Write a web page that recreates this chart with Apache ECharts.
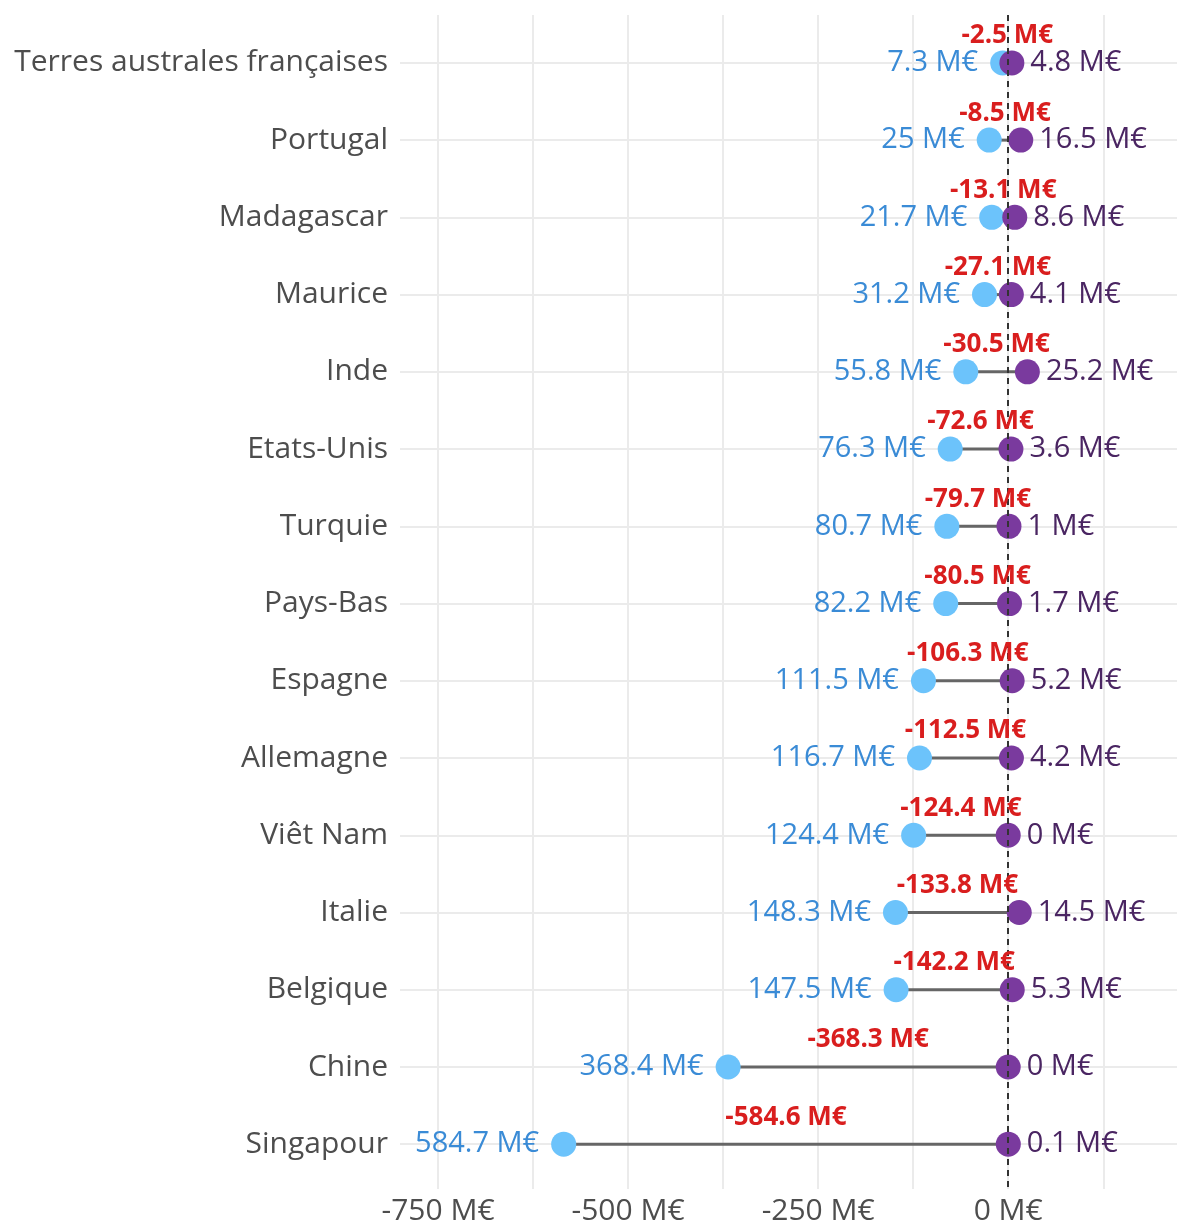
<!DOCTYPE html>
<html>
<head>
<meta charset="utf-8">
<script src="https://cdn.jsdelivr.net/npm/echarts@6/dist/echarts.min.js"></script>
<style>html,body{margin:0;padding:0;background:#fff;}#c{width:1177px;height:1226px;}</style>
</head>
<body>
<div id="c"></div>
<script>
const categories = ["Terres australes françaises","Portugal","Madagascar","Maurice","Inde","Etats-Unis","Turquie","Pays-Bas","Espagne","Allemagne","Viêt Nam","Italie","Belgique","Chine","Singapour"];
const importValues = [7.3,25,21.7,31.2,55.8,76.3,80.7,82.2,111.5,116.7,124.4,148.3,147.5,368.4,584.7];
const exportValues = [4.8,16.5,8.6,4.1,25.2,3.6,1,1.7,5.2,4.2,0,14.5,5.3,0,0.1];
const balanceValues = [-2.5,-8.5,-13.1,-27.1,-30.5,-72.6,-79.7,-80.5,-106.3,-112.5,-124.4,-133.8,-142.2,-368.3,-584.6];
const gridTicks = [-750,-625,-500,-375,-250,-125,0,125];
const labelTicks = [-750,-500,-250,0];
const rowIndex = categories.map((c,i)=>i);

const FONT = "'Open Sans'";
const chart = echarts.init(document.getElementById('c'), null, {renderer:'canvas'});

const segData = categories.map((c,i)=>[-importValues[i], exportValues[i], i]);
const blueData = categories.map((c,i)=>({value:[-importValues[i], i], lbl: importValues[i]}));
const purpleData = categories.map((c,i)=>({value:[exportValues[i], i], lbl: exportValues[i]}));
const redData = categories.map((c,i)=>[(-importValues[i]+exportValues[i])/2, i, balanceValues[i]]);

chart.setOption({
  animation:false,
  backgroundColor:'#fff',
  grid:{left:400, right:0, top:15, bottom:36, containLabel:false},
  xAxis:{
    type:'value', min:-800, max:222,
    axisLine:{show:false},
    axisTick:{show:false, customValues:gridTicks},
    splitLine:{show:true, lineStyle:{color:'#EBEBEB', width:2}},
    axisLabel:{customValues:labelTicks, formatter:v=>v+' M€', color:'#4D4D4D', fontFamily:FONT, fontSize:30, margin:7}
  },
  yAxis:{
    type:'value', min:-0.62, max:14.58, inverse:true,
    axisLine:{show:false},
    axisTick:{show:false, customValues:rowIndex},
    splitLine:{show:true, lineStyle:{color:'#EBEBEB', width:2}},
    axisLabel:{customValues:rowIndex, formatter:v=>categories[Math.round(v)], color:'#4D4D4D', fontFamily:FONT, fontSize:30, margin:12}
  },
  series:[
    {
      type:'custom', z:1, data:segData,
      encode:{x:[0,1], y:2},
      renderItem:(params, api)=>{
        const a = api.coord([api.value(0), api.value(2)]);
        const b = api.coord([api.value(1), api.value(2)]);
        return {type:'line', shape:{x1:a[0], y1:a[1], x2:b[0], y2:b[1]}, style:{stroke:'#666666', lineWidth:3}};
      }
    },
    {
      type:'scatter', z:2, data:[], symbolSize:0,
      markLine:{silent:true, symbol:'none', label:{show:false},
        lineStyle:{color:'#333333', type:[6,5], width:2},
        data:[{xAxis:0}]}
    },
    {
      type:'scatter', z:3, data:blueData, symbolSize:25,
      itemStyle:{color:'#6CC3FB', opacity:1},
      label:{show:true, position:'left', distance:12, formatter:p=>p.data.lbl+' M€',
        color:'#3A8BD6', fontFamily:FONT, fontSize:29}
    },
    {
      type:'scatter', z:4, data:purpleData, symbolSize:25,
      itemStyle:{color:'#7A3A9E', opacity:1},
      label:{show:true, position:'right', distance:6, formatter:p=>p.data.lbl+' M€',
        color:'#4A2562', fontFamily:FONT, fontSize:29}
    },
    {
      type:'custom', z:5, data:redData,
      encode:{x:0, y:1},
      renderItem:(params, api)=>{
        const p = api.coord([api.value(0), api.value(1)]);
        return {type:'text', x:p[0], y:p[1]-27, style:{text:api.value(2)+' M€', fill:'#D91E1E',
          font:'bold 26px '+FONT, align:'center', verticalAlign:'middle'}};
      }
    }
  ]
});
</script>
</body>
</html>
